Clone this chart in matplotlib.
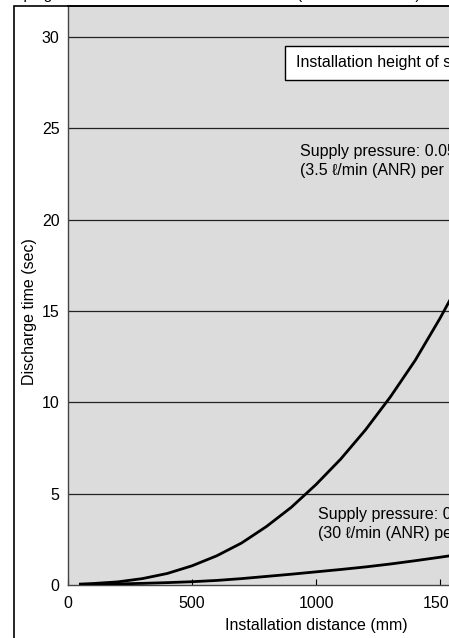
import matplotlib
matplotlib.use("Agg")
import matplotlib.pyplot as plt
from matplotlib.patches import Rectangle

plt.rcParams["font.family"] = ["Liberation Sans", "DejaVu Sans"]

# installation distance (mm) vs discharge time (sec)
distance_mm = [50, 100, 200, 300, 400, 500, 600, 700, 800, 900, 1000,
               1100, 1200, 1300, 1400, 1500, 1600]
time_low_flow = [0.05, 0.08, 0.17, 0.35, 0.63, 1.05, 1.6, 2.3, 3.2, 4.25, 5.5,
                 6.9, 8.5, 10.3, 12.3, 14.6, 17.1]
time_high_flow = [0.02, 0.04, 0.06, 0.09, 0.13, 0.18, 0.25, 0.35, 0.47, 0.59, 0.72,
                  0.85, 0.99, 1.15, 1.33, 1.52, 1.72]

x_ticks = [0, 500, 1000, 1500, 2000]
y_ticks = [0, 5, 10, 15, 20, 25, 30]

title = "Piping distance and static elimination time (reference values)"
box_label = "Installation height of static eliminator: 100 mm"
low_flow_label = ["Supply pressure: 0.05 MPa", "(3.5 \u2113/min (ANR) per nozzle)"]
high_flow_label = ["Supply pressure: 0.3 MPa", "(30 \u2113/min (ANR) per nozzle)"]

FS = 11.5
W, H = 449, 638
fig = plt.figure(figsize=(W / 100, H / 100), dpi=100)
ax = fig.add_axes([68 / W, 53 / H, 496 / W, 579 / H])
ax.set_facecolor("#dcdcdc")

ax.set_xlim(0, 2000)
ax.set_ylim(0, 31.7)
ax.set_xticks(x_ticks)
ax.set_yticks(y_ticks)
ax.tick_params(axis="x", direction="in", length=4, width=0.8, pad=8, labelsize=FS)
ax.tick_params(axis="y", length=0, pad=6, labelsize=FS)
for y in y_ticks[1:]:
    ax.axhline(y, color="#222222", lw=0.9, zorder=1)
for s in ["left", "bottom"]:
    ax.spines[s].set_color("#444444")
    ax.spines[s].set_linewidth(1.0)
ax.spines["top"].set_linewidth(1.2)

ax.plot(distance_mm, time_low_flow, color="black", lw=2.0, zorder=3,
        solid_joinstyle="round")
ax.plot(distance_mm, time_high_flow, color="black", lw=2.0, zorder=3,
        solid_joinstyle="round")

ax.add_patch(Rectangle((875, 27.65), 1300, 1.86, facecolor="white",
                       edgecolor="black", lw=1.0, zorder=4))
ax.text(918, 28.58, box_label, fontsize=FS, va="center", zorder=5)

ax.text(935, 23.75, low_flow_label[0], fontsize=FS, va="center")
ax.text(935, 22.72, low_flow_label[1], fontsize=FS, va="center")
ax.text(1008, 3.85, high_flow_label[0], fontsize=FS, va="center")
ax.text(1008, 2.82, high_flow_label[1], fontsize=FS, va="center")

ax.set_xlabel("Installation distance (mm)", fontsize=FS, labelpad=5)
ax.set_ylabel("Discharge time (sec)", fontsize=FS)
ax.yaxis.set_label_coords(-0.062, 0.473)

# outer frame around the whole figure panel
fig.add_artist(Rectangle((14 / W, -0.2), 2, 1.2 - 6 / H, transform=fig.transFigure,
                         facecolor="none", edgecolor="black", lw=1.2, clip_on=False))
fig.text(10 / W, 1 + 0.5 / H, title, fontsize=11, va="baseline")

fig.savefig("out.png", dpi=100)
